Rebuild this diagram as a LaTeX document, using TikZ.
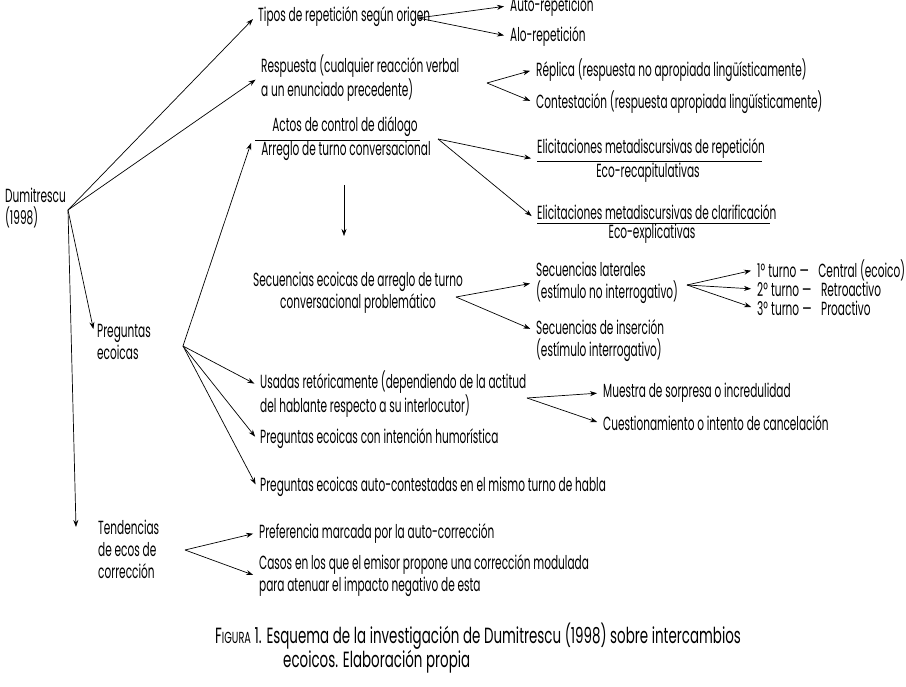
\documentclass[tikz,border=0pt]{standalone}
\usepackage{fontspec}
\setmainfont{Poppins}[FakeStretch=0.555]
\newfontfamily\capfont{Poppins}[FakeStretch=0.61]
\usetikzlibrary{arrows.meta}
\newcommand{\dfont}{\fontsize{19}{22}\selectfont}
\begin{document}
\begin{tikzpicture}[x=1pt,y=-1pt,
  txt/.style={anchor=west,inner sep=3pt,align=left,font=\dfont},
  ctr/.style={inner sep=3pt,align=center,font=\dfont},
  capt/.style={anchor=west,inner sep=3pt,font=\capfont\fontsize{22}{26}\selectfont},
  arr/.style={-{Stealth[length=7pt,width=5pt]},line width=.7pt,shorten >=3pt},
  barline/.style={line width=.7pt}]
\useasboundingbox (0,0) rectangle (906,687);
\node[txt] (dumi) at (2,208) {Dumitrescu\\(1998)};
\coordinate (root) at (68,210);
\node[txt] (tipos) at (255,17) {Tipos de repetición según origen};
\node[txt] (auto) at (507,6) {Auto-repetición};
\node[txt] (alo) at (507,36) {Alo-repetición};
\coordinate (htipos) at (418,18);
\node[txt] (resp) at (258,78) {Respuesta (cualquier reacción verbal\\a un enunciado precedente)};
\node[txt] (repl) at (533,70) {Réplica (respuesta no apropiada lingüísticamente)};
\node[txt] (cont) at (533,102) {Contestación (respuesta apropiada lingüísticamente)};
\coordinate (hresp) at (487,83);
\node[ctr] (actos) at (345,127) {Actos de control de diálogo};
\node[ctr] (arreglo) at (346,151) {Arreglo de turno conversacional};
\draw[barline] (255,140) -- (420,140);
\coordinate (actin) at (251,143);
\coordinate (hact) at (438,139);
\node[txt] (elrep) at (534,148) {Elicitaciones metadiscursivas de repetición};
\node[ctr] (ecorec) at (648,173) {Eco-recapitulativas};
\draw[barline] (537,161) -- (762,161);
\node[txt] (elcla) at (534,212) {Elicitaciones metadiscursivas de clarificación};
\node[ctr] (ecoexp) at (652,234) {Eco-explicativas};
\draw[barline] (537,223) -- (770,223);
\coordinate (vtop) at (344,185);
\coordinate (vbot) at (344,236);
\node[ctr] (secec) at (358,293) {Secuencias ecoicas de arreglo de turno\\conversacional problemático};
\coordinate (hsec) at (456,297);
\node[txt] (seclat) at (533,283) {Secuencias laterales\\(estímulo no interrogativo)};
\node[txt] (secins) at (533,341) {Secuencias de inserción\\(estímulo interrogativo)};
\coordinate (hlat) at (687,285);
\node[txt] (t1) at (754,270) {1º\,turno\,---\enspace Central (ecoico)};
\node[txt] (t2) at (754,289) {2º\,turno\,---\enspace Retroactivo};
\node[txt] (t3) at (754,308) {3º\,turno\,---\enspace Proactivo};
\node[txt] (preg) at (94,342) {Preguntas\\ecoicas};
\coordinate (hpreg) at (183,346);
\node[txt] (usadas) at (257,394) {Usadas retóricamente (dependiendo de la actitud\\del hablante respecto a su interlocutor)};
\coordinate (husa) at (527,398);
\node[txt] (muest) at (600,393) {Muestra de sorpresa o incredulidad};
\node[txt] (cuest) at (600,423) {Cuestionamiento o intento de cancelación};
\node[txt] (humor) at (257,439) {Preguntas ecoicas con intención humorística};
\node[txt] (autoc) at (257,487) {Preguntas ecoicas auto-contestadas en el mismo turno de habla};
\node[txt] (tend) at (95,549) {Tendencias\\de ecos de\\corrección};
\coordinate (tendin) at (76,527);
\coordinate (htend) at (185,550);
\node[txt] (pref) at (256,533) {Preferencia marcada por la auto-corrección};
\node[txt] (casos) at (256,576) {Casos en los que el emisor propone una corrección modulada\\para atenuar el impacto negativo de esta};
\node[capt] (cap1) at (212,636) {F{\fontsize{16}{16}\selectfont IGURA} 1. Esquema de la investigación de Dumitrescu (1998) sobre intercambios};
\node[capt] (cap2) at (280,662) {ecoicos. Elaboración propia};
\draw[arr] (root) -- (tipos.west);
\draw[arr] (root) -- (resp.west);
\draw[arr] (root) -- ([yshift=10pt]preg.west);
\draw[arr,shorten >=0pt] (root) -- (tendin);
\draw[arr] (htipos) -- (auto.west);
\draw[arr] (htipos) -- (alo.west);
\draw[arr] (hresp) -- (repl.west);
\draw[arr] (hresp) -- (cont.west);
\draw[arr,shorten >=0pt] (hpreg) -- (actin);
\draw[arr] (hact) -- ([yshift=-11pt]elrep.west);
\draw[arr] (hact) -- ([yshift=-6pt]elcla.west);
\draw[arr,line width=.5pt,shorten >=0pt] (vtop) -- (vbot);
\draw[arr] (hsec) -- (seclat.west);
\draw[arr] (hsec) -- ([yshift=11pt]secins.west);
\draw[arr] (hlat) -- (t1.west);
\draw[arr] (hlat) -- (t2.west);
\draw[arr] (hlat) -- (t3.west);
\draw[arr] (hpreg) -- ([yshift=9pt]usadas.west);
\draw[arr] (hpreg) -- (humor.west);
\draw[arr] (hpreg) -- (autoc.west);
\draw[arr] (husa) -- (muest.west);
\draw[arr] (husa) -- (cuest.west);
\draw[arr] (htend) -- (pref.west);
\draw[arr] (htend) -- (casos.west);
\end{tikzpicture}
\end{document}
